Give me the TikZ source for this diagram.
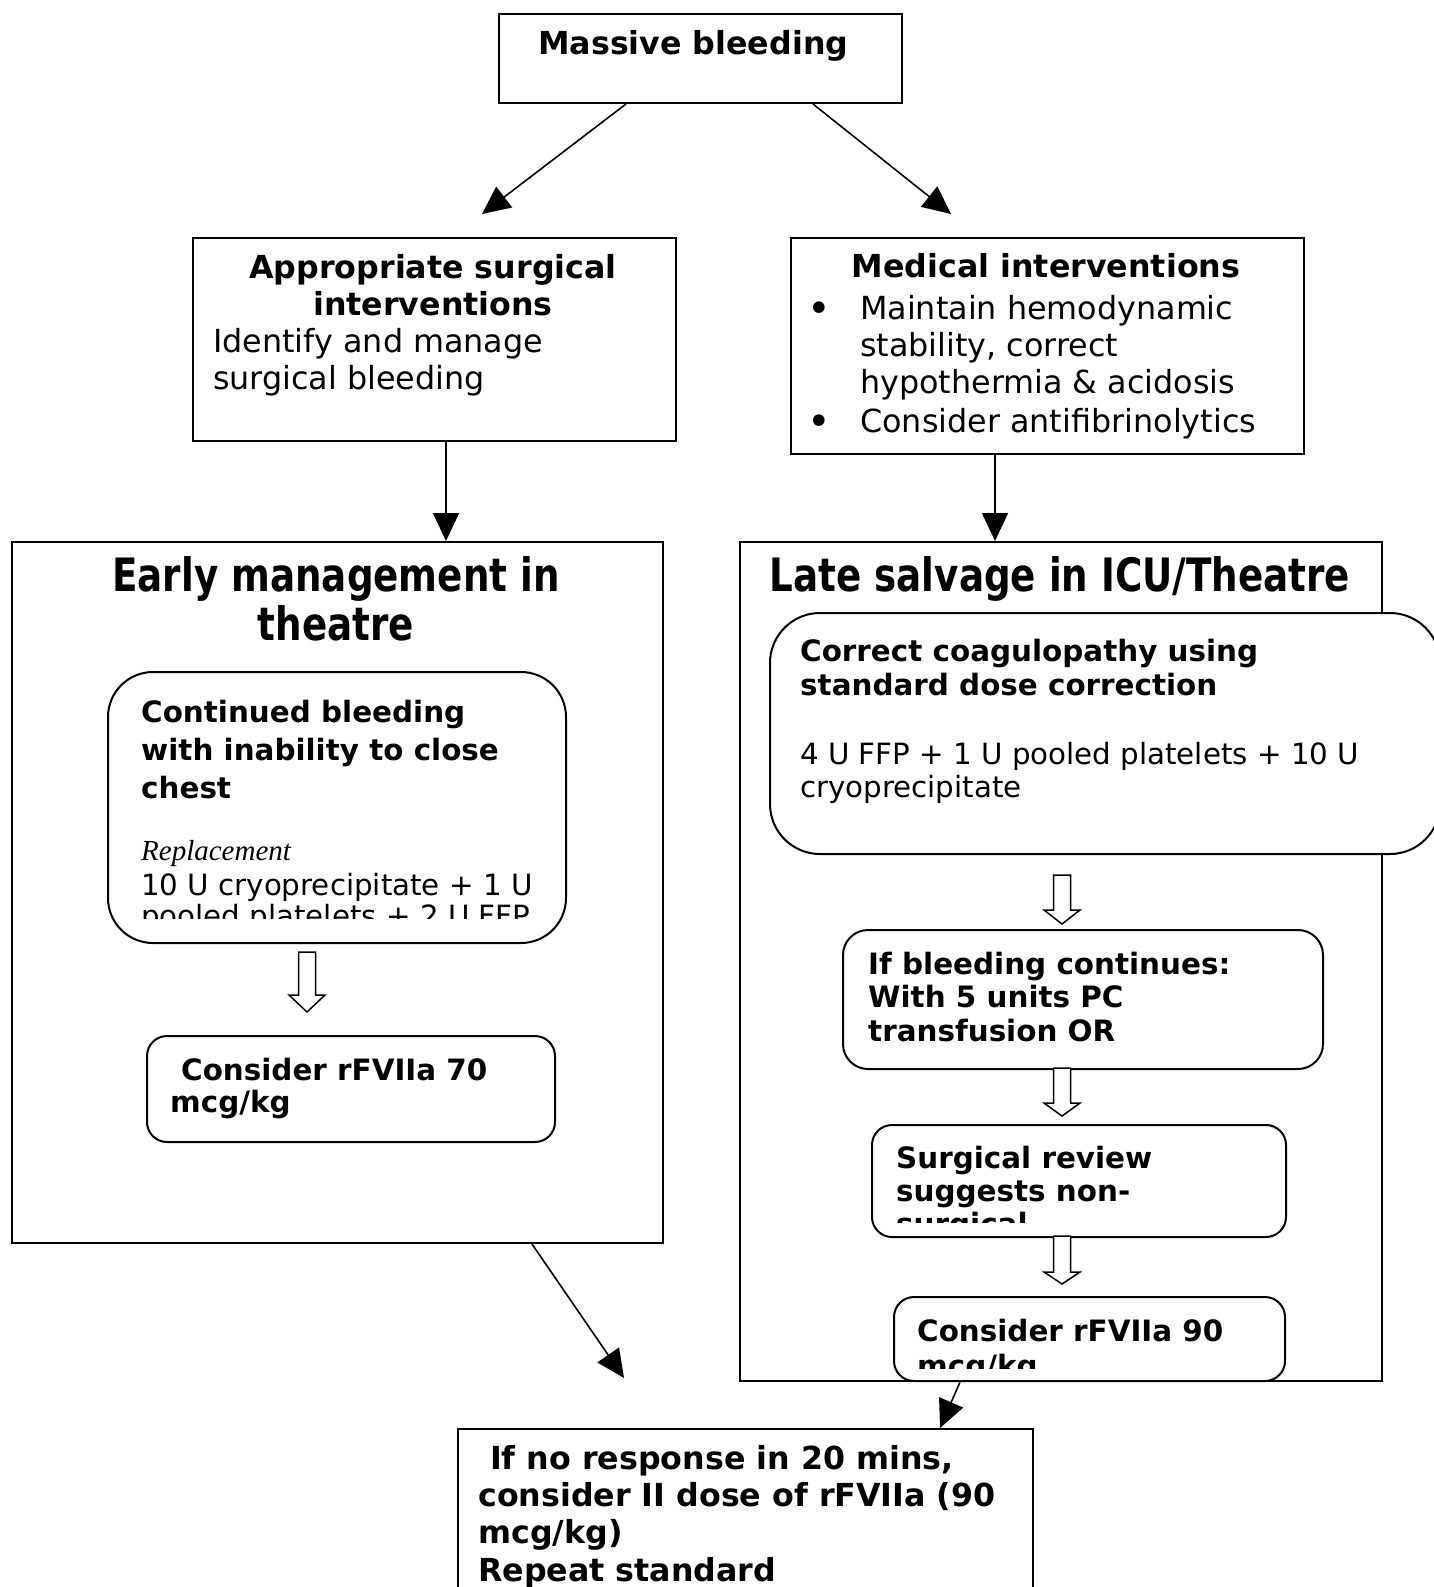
\documentclass[tikz,border=0pt]{standalone}
\usepackage{fontspec}
\setmainfont{DejaVu Sans}
\newfontfamily\condfont[FakeStretch=0.81]{DejaVu Sans}
\newfontfamily\serifit{Liberation Serif}
\usetikzlibrary{arrows.meta}
\tikzset{
  box/.style={draw, line width=2pt, fill=white, inner sep=0pt, anchor=north west},
  rbox/.style={box, rounded corners=#1},
  arr/.style={line width=1.6pt, -{Triangle[length=28pt,width=26pt]}},
  hol/.style={draw, line width=1.5pt, fill=white, line join=miter},
  hb/.style={font=\fontsize{31.7}{37}\selectfont\bfseries, inner sep=0pt},
  hr/.style={font=\fontsize{31.8}{37}\selectfont, inner sep=0pt},
  bul/.style={font=\fontsize{40}{40}\selectfont, inner sep=0pt},
  sb/.style={font=\fontsize{29.4}{34}\selectfont\bfseries, inner sep=0pt},
  sr/.style={font=\fontsize{29.3}{34}\selectfont, inner sep=0pt},
  big/.style={font=\condfont\fontsize{46}{50}\selectfont\bfseries, inner sep=0pt},
  itx/.style={font=\serifit\itshape\fontsize{29}{34}\selectfont, inner sep=0pt},
}
\begin{document}
\begin{tikzpicture}[x=1pt,y=-1pt]
\useasboundingbox[fill=white] (0,0) rectangle (1434,1587);

% ---------- boxes ----------
\node[box, minimum width=403, minimum height=89] (mb) at (498,13) {};
\node[box, minimum width=483, minimum height=203] (sur) at (192,237) {};
\node[box, minimum width=513, minimum height=216] (med) at (790,237) {};
\node[box, minimum width=651, minimum height=701] (early) at (11,541) {};
\node[box, minimum width=642, minimum height=839] (late) at (739,541) {};
\node[rbox=45, minimum width=458, minimum height=271] (cont) at (107,671) {};
\node[rbox=20, minimum width=408, minimum height=106] (c70) at (146,1035) {};
\node[rbox=50, minimum width=670, minimum height=241] (coag) at (769,612) {};
\node[rbox=25, minimum width=480, minimum height=139] (ifb) at (842,929) {};
\node[rbox=20, minimum width=414, minimum height=112] (srv) at (871,1124) {};
\node[rbox=20, minimum width=391, minimum height=84] (c90) at (893,1296) {};
\node[box, minimum width=575, minimum height=200] (bot) at (457,1428) {};

% ---------- texts ----------
\node[hb, anchor=base west] (tmb) at (538,55) {Massive bleeding};

\node[hb, anchor=base] (ts1) at (433,278) {Appropriate surgical};
\node[hb, anchor=base] (ts2) at (433,315) {interventions};
\node[hr, anchor=base west] (ts3) at (213,352) {Identify and manage};
\node[hr, anchor=base west] (ts4) at (213,389) {surgical bleeding};

\node[hb, anchor=base] (tm0) at (1046,277) {Medical interventions};
\node[bul, anchor=base] (bu1) at (819,322) {•};
\node[hr, anchor=base west] (tm1) at (860,319) {Maintain hemodynamic};
\node[hr, anchor=base west] (tm2) at (860,356) {stability, correct};
\node[hr, anchor=base west] (tm3) at (860,393) {hypothermia \& acidosis};
\node[bul, anchor=base] (bu2) at (819,435) {•};
\node[hr, anchor=base west] (tm4) at (860,432) {Consider antifibrinolytics};

\node[big, anchor=base] (te1) at (336,591) {Early management in};
\node[big, anchor=base] (te2) at (336,640) {theatre};
\node[big, anchor=base] (tl1) at (1060,591) {Late salvage in ICU/Theatre};

\begin{scope}
\clip (110,675) rectangle (562,918);
\node[sb, anchor=base west] (tc1) at (141,722) {Continued bleeding};
\node[sb, anchor=base west] (tc2) at (141,760) {with inability to close};
\node[sb, anchor=base west] (tc3) at (141,798) {chest};
\node[itx, anchor=base west] (tc4) at (141,860) {Replacement};
\node[sr, anchor=base west] (tc5) at (141,895) {10 U cryoprecipitate + 1 U};
\node[sr, anchor=base west] (tc6) at (141,926) {pooled platelets + 2 U FFP};
\end{scope}

\begin{scope}
\clip (150,1038) rectangle (550,1125);
\node[sb, anchor=base west] (t701) at (181,1080) {Consider rFVIIa 70};
\node[sb, anchor=base west] (t702) at (170,1112) {mcg/kg};
\end{scope}

\node[sb, anchor=base west] (tg1) at (800,661) {Correct coagulopathy using};
\node[sb, anchor=base west] (tg2) at (800,695) {standard dose correction};
\node[sr, anchor=base west] (tg3) at (800,764) {4 U FFP + 1 U pooled platelets + 10 U};
\node[sr, anchor=base west] (tg4) at (800,797) {cryoprecipitate};

\node[sb, anchor=base west] (tf1) at (868,974) {If bleeding continues:};
\node[sb, anchor=base west] (tf2) at (868,1007) {With 5 units PC};
\node[sb, anchor=base west] (tf3) at (868,1041) {transfusion OR};

\begin{scope}
\clip (875,1128) rectangle (1281,1222);
\node[sb, anchor=base west] (tr1) at (896,1168) {Surgical review};
\node[sb, anchor=base west] (tr2) at (896,1201) {suggests non-};
\node[sb, anchor=base west] (tr3) at (896,1234) {surgical};
\end{scope}

\begin{scope}
\clip (897,1299) rectangle (1281,1368);
\node[sb, anchor=base west] (t901) at (917,1341) {Consider rFVIIa 90};
\node[sb, anchor=base west] (t902) at (917,1376) {mcg/kg};
\end{scope}

\node[hb, anchor=base west] (tb1) at (490,1469) {If no response in 20 mins,};
\node[hb, anchor=base west] (tb2) at (478,1506) {consider II dose of rFVIIa (90};
\node[hb, anchor=base west] (tb3) at (478,1543) {mcg/kg)};
\node[hb, anchor=base west] (tb4) at (478,1581) {Repeat standard};

% ---------- connectors ----------
\coordinate (e1) at (482,214);
\coordinate (e2) at (951,214);
\coordinate (e3) at (624,1378);
\draw[arr] ([xshift=-74.5]mb.south) -- (e1);
\draw[arr] ([xshift=112.5]mb.south) -- (e2);
\draw[arr] ([xshift=11.5]sur.south) -- ([xshift=11.5]sur.south |- early.north);
\draw[arr] ([xshift=-52.5]med.south) -- ([xshift=-52.5]med.south |- late.north);
\draw[arr] ([xshift=194.5]early.south) -- (e3);
\draw[arr] ([xshift=-129.5]c90.south) -- ([xshift=194.5]bot.north);

% hollow block arrows
\draw[hol] (298.5,952) -- (298.5,995) -- (289,995) -- (307,1012) -- (325,995) -- (315.5,995) -- (315.5,952) -- cycle;
\draw[hol] (1053.5,875) -- (1053.5,910) -- (1044,910) -- (1062,924) -- (1080,910) -- (1070.5,910) -- (1070.5,875) -- cycle;
\draw[hol] (1053.5,1068) -- (1053.5,1103) -- (1044,1103) -- (1062,1116) -- (1080,1103) -- (1070.5,1103) -- (1070.5,1068) -- cycle;
\draw[hol] (1053.5,1236) -- (1053.5,1272) -- (1044,1272) -- (1062,1284) -- (1080,1272) -- (1070.5,1272) -- (1070.5,1236) -- cycle;
\end{tikzpicture}
\end{document}
